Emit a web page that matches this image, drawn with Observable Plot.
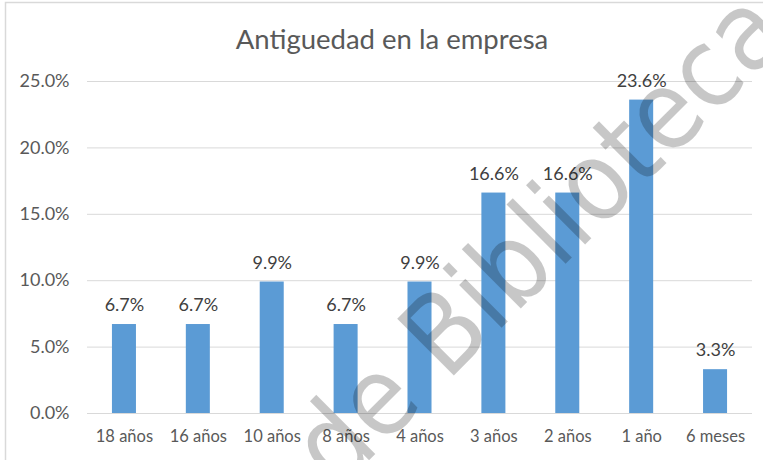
<!DOCTYPE html>
<html><head><meta charset="utf-8">
<script src="https://cdn.jsdelivr.net/npm/d3@7"></script>
<script src="https://cdn.jsdelivr.net/npm/@observablehq/plot@0.6"></script>
<style>body{margin:0;background:#fff;overflow:hidden} svg{display:block}</style>
</head><body><div id="chart"></div>
<script>
const categories = ["18 años","16 años","10 años","8 años","4 años","3 años","2 años","1 año","6 meses"];
const values = [6.7, 6.7, 9.9, 6.7, 9.9, 16.6, 16.6, 23.6, 3.3];
const yTicks = [0, 5, 10, 15, 20, 25];
const title = "Antiguedad en la empresa";
const watermark = "de Biblioteca";

const data = categories.map((c, i) => ({cat: c, value: values[i]}));
const pct = d => d.toFixed(1) + "%";

const chart = Plot.plot({
  width: 763, height: 460,
  marginLeft: 87, marginRight: 11, marginTop: 81, marginBottom: 47,
  style: {fontFamily: "Lato, sans-serif", background: "#fff", overflow: "visible"},
  x: {domain: categories, paddingInner: 0.675, paddingOuter: 0.3375, round: false, label: null},
  y: {domain: [0, 25], label: null},
  marks: [
    Plot.gridY(yTicks, {stroke: "#d9d9d9", strokeOpacity: 1}),
    Plot.ruleY([0], {stroke: "#d9d9d9"}),
    Plot.barY(data, {x: "cat", y: "value", fill: "#5B9BD5"}),
    Plot.axisY(yTicks, {tickSize: 0, tickPadding: 18, tickFormat: pct, fontSize: 18, fill: "#595959", label: null}),
    Plot.axisX({tickSize: 0, tickPadding: 17, fontSize: 16.5, fill: "#595959", label: null}),
    Plot.text(data, {x: "cat", y: "value", text: d => pct(d.value), dy: -19, fill: "#404040", fontSize: 18}),
    Plot.text([title], {frameAnchor: "top", dx: -28, dy: -41, fill: "#595959", fontSize: 27.5, lineAnchor: "middle"}),
    Plot.text([watermark], {frameAnchor: "middle", dx: 120, dy: -8, rotate: -45, fontSize: 110,
      fontFamily: "'DejaVu Sans Condensed', 'DejaVu Sans'", fill: "#000", fillOpacity: 0.22})
  ]
});
d3.select(chart).append("path").attr("d", "M5.5,460V2.5H763").attr("fill", "none").attr("stroke", "#d9d9d9").attr("stroke-width", 1.5);
document.getElementById("chart").appendChild(chart);
</script>
</body></html>
